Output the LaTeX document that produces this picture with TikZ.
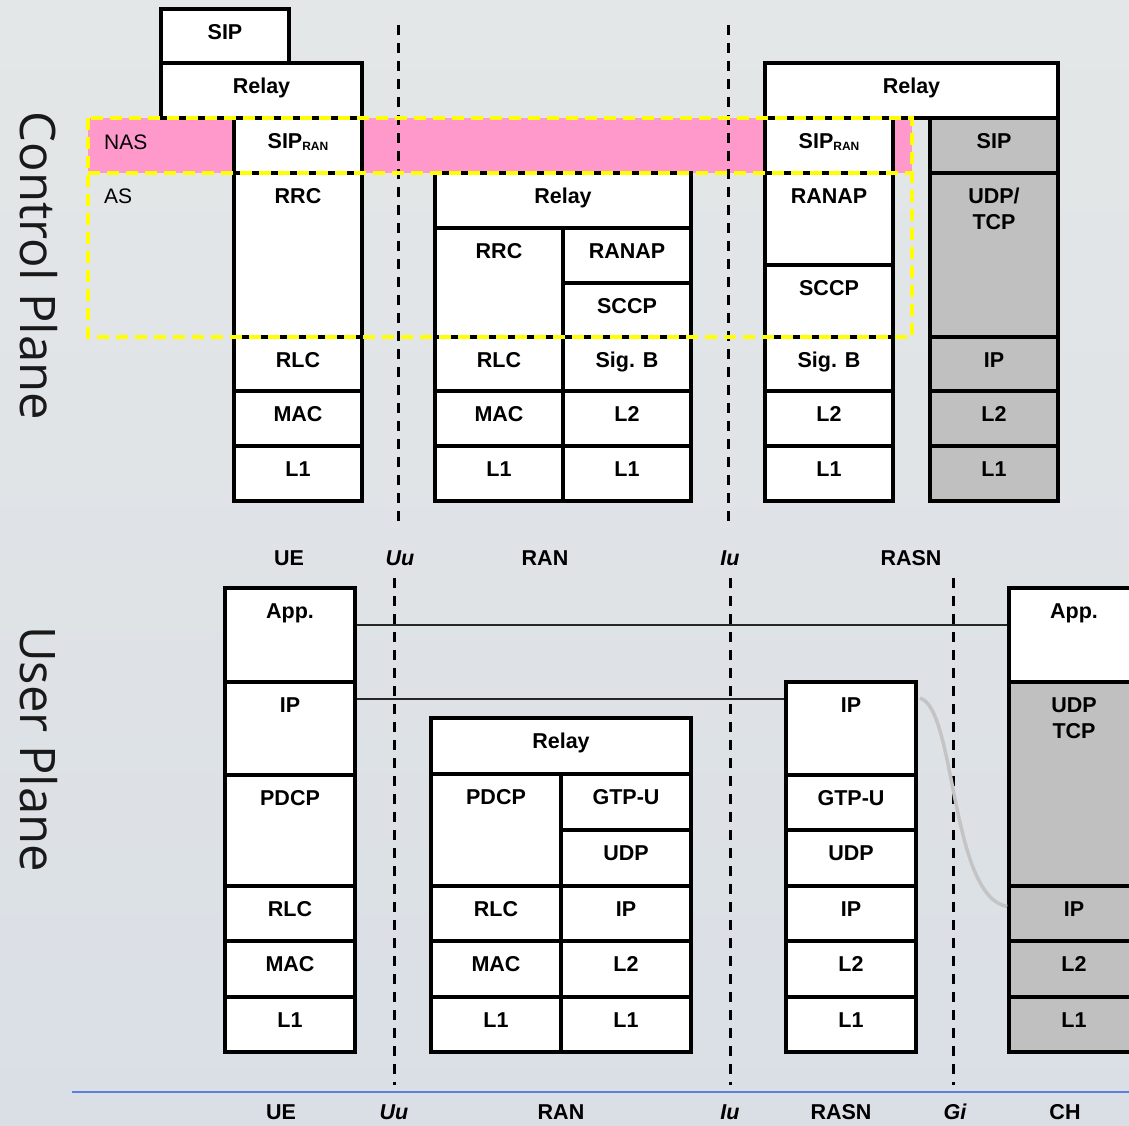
\documentclass[tikz,border=0pt]{standalone}
\usepackage{fontspec}
\setmainfont{Liberation Sans}
\newfontfamily\sidefont{Open Sans}
\usetikzlibrary{fit,calc}
\definecolor{bgtop}{RGB}{228,231,231}
\definecolor{bgbot}{RGB}{218,223,230}
\definecolor{nas}{RGB}{255,153,204}
\definecolor{chgray}{RGB}{192,192,192}
\definecolor{blu}{RGB}{92,126,226}
\definecolor{yel}{RGB}{255,255,0}
\definecolor{curvegray}{RGB}{196,196,196}
\tikzset{
  box/.style={draw=black, line width=3.8pt, fill=white, inner sep=0pt},
  lab/.style={font=\fontsize{21.5}{26}\selectfont\bfseries, inner sep=0pt, anchor=north, align=center},
  toplab/.style={font=\fontsize{21.5}{26}\selectfont\bfseries, inner sep=0pt},
  itlab/.style={font=\fontsize{21.5}{26}\selectfont\bfseries\itshape, inner sep=0pt},
  plainlab/.style={font=\fontsize{21}{26}\selectfont, inner sep=0pt, anchor=west},
  sidelab/.style={font=\fontsize{49}{55}\sidefont, text=black!90, inner sep=0pt, rotate=-90, anchor=base},
  ifline/.style={draw=black, line width=3pt, dash pattern=on 10pt off 8pt},
  yeldash/.style={draw=yel, line width=3.5pt, dash pattern=on 12pt off 7pt},
  peerline/.style={draw=black!85, line width=1.4pt},
  mapcurve/.style={draw=curvegray, line width=3.5pt},
  baseline/.style={draw=blu, line width=2.5pt}
}
\newcommand\lyr[7][white]{%
  \node[box, fill=#1, fit={(#3,#4) (#5,#6)}] (#2) {};
  \node[lab] (#2t) at ([yshift=-17pt]#2.north) {#7};}
\newcommand\ran{\raisebox{-2pt}{\fontsize{12}{12}\selectfont RAN}}
\begin{document}
\begin{tikzpicture}[x=1pt,y=-1pt]
\useasboundingbox (0,0) rectangle (1129,1125);
\clip (0,0) rectangle (1129,1125);
\shade[top color=bgtop, bottom color=bgbot] (0,0) rectangle (1129,1125);

% side labels
\node[sidelab] (cplane) at (20,266) {Control Plane};
\node[sidelab] (uplane) at (20,749) {User Plane};

% NAS band
\fill[nas] (88,118) rectangle (912,173);
\node[plainlab] (nastxt) at (104,142) {NAS};
\node[plainlab] (astxt) at (104,196) {AS};

% interface dashed lines (control plane)
\coordinate (uuTop) at (398,25);  \coordinate (uuBot) at (398,528);
\coordinate (iuTop) at (728,25);  \coordinate (iuBot) at (728,528);
\draw[ifline] (uuTop) -- (uuBot);
\draw[ifline] (iuTop) -- (iuBot);

% ---- Control plane: UE
\lyr{cSIP}{161}{9}{289}{63}{SIP}
\lyr{cUErelay}{161}{63}{362}{118}{Relay}
\lyr{cUEsip}{234}{118}{362}{173}{SIP\ran}
\lyr{cUErrc}{234}{173}{362}{337}{RRC}
\lyr{cUErlc}{234}{337}{362}{391}{RLC}
\lyr{cUEmac}{234}{391}{362}{446}{MAC}
\lyr{cUEl1}{234}{446}{362}{501}{L1}
% ---- Control plane: RAN
\lyr{cRrelay}{435}{173}{691}{228}{Relay}
\lyr{cRrrc}{435}{228}{563}{337}{RRC}
\lyr{cRranap}{563}{228}{691}{283}{RANAP}
\lyr{cRsccp}{563}{283}{691}{337}{SCCP}
\lyr{cRrlc}{435}{337}{563}{391}{RLC}
\lyr{cRsigb}{563}{337}{691}{391}{Sig. B}
\lyr{cRmac}{435}{391}{563}{446}{MAC}
\lyr{cRl2}{563}{391}{691}{446}{L2}
\lyr{cRl1a}{435}{446}{563}{501}{L1}
\lyr{cRl1b}{563}{446}{691}{501}{L1}
% ---- Control plane: RASN
\lyr{cSrelay}{765}{63}{1058}{118}{Relay}
\lyr{cSsip}{765}{118}{893}{173}{SIP\ran}
\lyr{cSranap}{765}{173}{893}{265}{RANAP}
\lyr{cSsccp}{765}{265}{893}{337}{SCCP}
\lyr{cSsigb}{765}{337}{893}{391}{Sig. B}
\lyr{cSl2}{765}{391}{893}{446}{L2}
\lyr{cSl1}{765}{446}{893}{501}{L1}
% ---- Control plane: CH
\lyr[chgray]{cCsip}{930}{118}{1058}{173}{SIP}
\lyr[chgray]{cCudp}{930}{173}{1058}{337}{UDP/\\TCP}
\lyr[chgray]{cCip}{930}{337}{1058}{391}{IP}
\lyr[chgray]{cCl2}{930}{391}{1058}{446}{L2}
\lyr[chgray]{cCl1}{930}{446}{1058}{501}{L1}

% NAS / AS dashed frame
\draw[yeldash] (88,118) rectangle (912,337);
\draw[yeldash] (88,173) -- (912,173);

% middle labels
\node[toplab] (mUE) at (289,558) {UE};
\node[itlab] (mUu) at (400,558) {Uu};
\node[toplab] (mRAN) at (545,558) {RAN};
\node[itlab] (mIu) at (730,558) {Iu};
\node[toplab] (mRASN) at (911,558) {RASN};

% interface dashed lines (user plane)
\coordinate (uu2Top) at (394,578);  \coordinate (uu2Bot) at (394,1085);
\coordinate (iu2Top) at (730,578);  \coordinate (iu2Bot) at (730,1085);
\coordinate (giTop) at (953,578);   \coordinate (giBot) at (953,1085);
\draw[ifline] (uu2Top) -- (uu2Bot);
\draw[ifline] (iu2Top) -- (iu2Bot);
\draw[ifline] (giTop) -- (giBot);

% ---- User plane: UE
\lyr{uApp}{225}{588}{355}{682}{App.}
\lyr{uIP}{225}{682}{355}{775}{IP}
\lyr{uPdcp}{225}{775}{355}{886}{PDCP}
\lyr{uRlc}{225}{886}{355}{941}{RLC}
\lyr{uMac}{225}{941}{355}{997}{MAC}
\lyr{uL1}{225}{997}{355}{1052}{L1}
% ---- User plane: RAN
\lyr{rRelay}{431}{718}{691}{774}{Relay}
\lyr{rPdcp}{431}{774}{561}{886}{PDCP}
\lyr{rGtp}{561}{774}{691}{830}{GTP-U}
\lyr{rUdp}{561}{830}{691}{886}{UDP}
\lyr{rRlc}{431}{886}{561}{941}{RLC}
\lyr{rIP}{561}{886}{691}{941}{IP}
\lyr{rMac}{431}{941}{561}{997}{MAC}
\lyr{rL2}{561}{941}{691}{997}{L2}
\lyr{rL1a}{431}{997}{561}{1052}{L1}
\lyr{rL1b}{561}{997}{691}{1052}{L1}
% ---- User plane: RASN
\lyr{sIP}{786}{682}{916}{775}{IP}
\lyr{sGtp}{786}{775}{916}{830}{GTP-U}
\lyr{sUdp}{786}{830}{916}{886}{UDP}
\lyr{sIP2}{786}{886}{916}{941}{IP}
\lyr{sL2}{786}{941}{916}{997}{L2}
\lyr{sL1}{786}{997}{916}{1052}{L1}
% ---- User plane: CH
\lyr{hApp}{1009}{588}{1139}{682}{App.}
\lyr[chgray]{hUdp}{1009}{682}{1139}{886}{UDP\\TCP}
\lyr[chgray]{hIP}{1009}{886}{1139}{941}{IP}
\lyr[chgray]{hL2}{1009}{941}{1139}{997}{L2}
\lyr[chgray]{hL1}{1009}{997}{1139}{1052}{L1}

% peer lines
\draw[peerline] ($(uApp.north east)+(0,39)$) coordinate (appL) -- (appL -| hApp.west);
\draw[peerline] ($(uIP.north east)+(0,19)$) coordinate (ipL) -- (ipL -| sIP.west);
% IP mapping curve
\draw[mapcurve] ($(sIP.north east)+(2,18)$) .. controls (956,708) and (950,896) .. ($(hIP.west)+(0,-7)$);

% bottom rule and labels
\coordinate (ruleL) at (72,1092); \coordinate (ruleR) at (1129,1092);
\draw[baseline] (ruleL) -- (ruleR);
\node[toplab] (bUE) at (281,1112) {UE};
\node[itlab] (bUu) at (394,1112) {Uu};
\node[toplab] (bRAN) at (561,1112) {RAN};
\node[itlab] (bIu) at (730,1112) {Iu};
\node[toplab] (bRASN) at (841,1112) {RASN};
\node[itlab] (bGi) at (955,1112) {Gi};
\node[toplab] (bCH) at (1065,1112) {CH};
\end{tikzpicture}
\end{document}
